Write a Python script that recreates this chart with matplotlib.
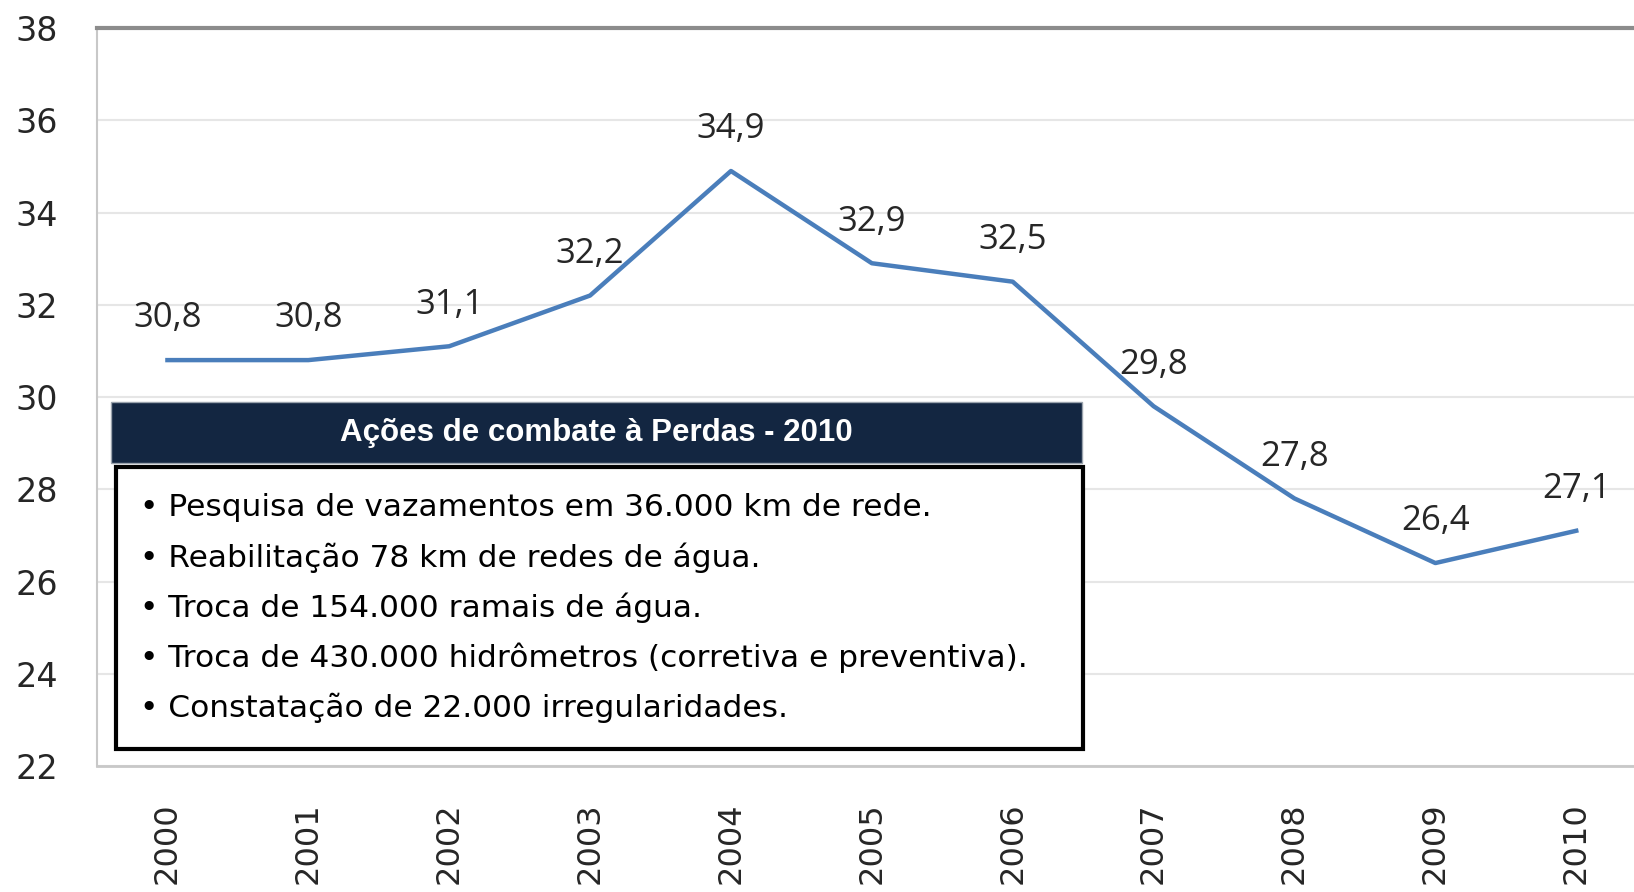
import matplotlib
matplotlib.use('Agg')
import matplotlib.pyplot as plt
from matplotlib.patches import Rectangle

# dados
anos = ['2000', '2001', '2002', '2003', '2004', '2005', '2006', '2007', '2008', '2009', '2010']
perdas = [30.8, 30.8, 31.1, 32.2, 34.9, 32.9, 32.5, 29.8, 27.8, 26.4, 27.1]
y_ticks = [22, 24, 26, 28, 30, 32, 34, 36, 38]
titulo_caixa = 'Ações de combate à Perdas - 2010'
acoes = [
    'Pesquisa de vazamentos em 36.000 km de rede.',
    'Reabilitação 78 km de redes de água.',
    'Troca de 154.000 ramais de água.',
    'Troca de 430.000 hidrômetros (corretiva e preventiva).',
    'Constatação de 22.000 irregularidades.',
]

W, H = 1634, 892
fig = plt.figure(figsize=(W / 100, H / 100), dpi=100)
ax = fig.add_axes([97 / W, (H - 766) / H, 1 - 97 / W, (766 - 28) / H])

x = list(range(len(anos)))
ax.plot(x, perdas, color='#4a7ebb', lw=3.2, solid_joinstyle='round')
for xi, v in zip(x, perdas):
    ax.annotate(f'{v:.1f}'.replace('.', ','), (xi, v), xytext=(0, 30),
                textcoords='offset points', ha='center', va='center',
                fontsize=25, color='#262626', family='Open Sans')

ax.set_xlim(-0.5, 10.41)
ax.set_ylim(22, 38)
ax.set_yticks(y_ticks)
ax.set_yticklabels([str(t) for t in y_ticks], fontsize=24, color='#262626',
                   family='DejaVu Sans')
ax.set_xticks(x)
ax.set_xticklabels(anos, rotation=90, fontsize=23, color='#262626', family='DejaVu Sans')
ax.tick_params(length=0)
ax.tick_params(axis='y', pad=59)
ax.tick_params(axis='x', pad=26)
for lbl in ax.get_yticklabels():
    lbl.set_horizontalalignment('left')
ax.grid(axis='y', color='#e6e6e6', lw=1.5)
ax.set_axisbelow(True)
ax.spines['right'].set_visible(False)
ax.spines['top'].set_color('#8c8c8c')
ax.spines['top'].set_linewidth(3)
ax.spines['left'].set_color('#c8c8c8')
ax.spines['left'].set_linewidth(1.5)
ax.spines['bottom'].set_color('#c8c8c8')
ax.spines['bottom'].set_linewidth(2)

# caixa de texto (coordenadas da figura)
def fx(px):
    return px / W

def fy(py):
    return 1 - py / H

fig.patches.append(Rectangle((fx(111), fy(463)), fx(1082) - fx(111), fy(402) - fy(463),
                             transform=fig.transFigure, facecolor='#132641',
                             edgecolor='#9aa3ad', lw=1, zorder=5))
fig.text(fx(596), fy(433), titulo_caixa, ha='center', va='center', color='white',
         fontsize=22.5, fontweight='bold', family='Liberation Sans', zorder=6)
fig.patches.append(Rectangle((fx(116), fy(749)), fx(1083) - fx(116), fy(467) - fy(749),
                             transform=fig.transFigure, facecolor='white',
                             edgecolor='black', lw=3, zorder=5))
for i, t in enumerate(acoes):
    fig.text(fx(140), fy(507 + i * 50.3), '• ' + t, ha='left', va='center',
             fontsize=22.5, color='black', family='DejaVu Sans', zorder=6)

fig.savefig('out.png', dpi=100)
